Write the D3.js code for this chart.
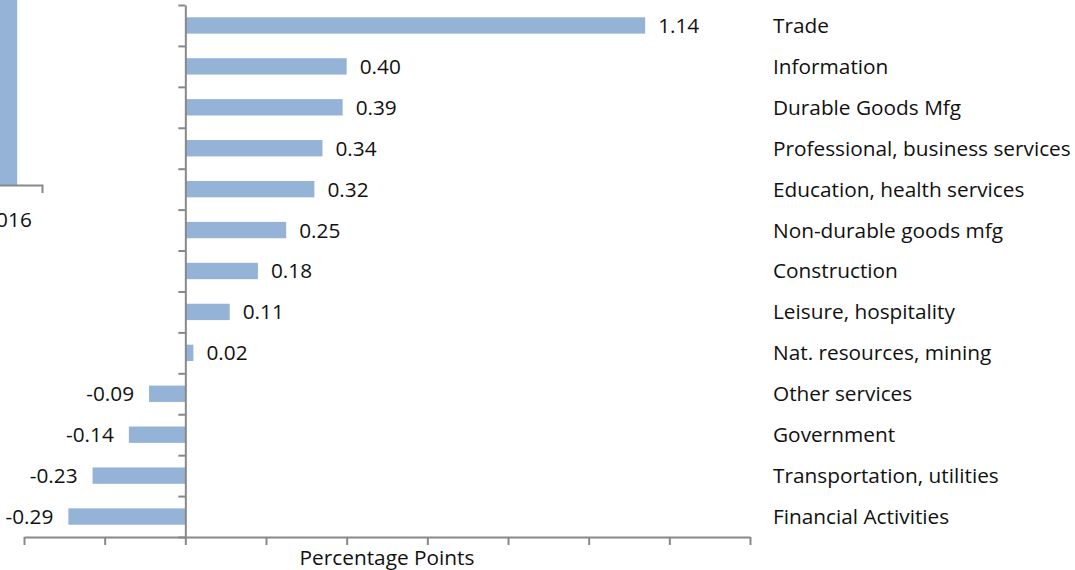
<!DOCTYPE html>
<html>
<head>
<meta charset="utf-8">
<script src="https://cdn.jsdelivr.net/npm/d3@7"></script>
<style>
  body { margin: 0; background: #fff; }
  svg text { font-family: "Open Sans", "Noto Sans", sans-serif; fill: #111; }
</style>
</head>
<body>
<svg id="chart"></svg>
<script>
// sector contributions, top to bottom
const categories = ["Trade", "Information", "Durable Goods Mfg", "Professional, business services",
  "Education, health services", "Non-durable goods mfg", "Construction", "Leisure, hospitality",
  "Nat. resources, mining", "Other services", "Government", "Transportation, utilities", "Financial Activities"];
const values = [1.14, 0.40, 0.39, 0.34, 0.32, 0.25, 0.18, 0.11, 0.02, -0.09, -0.14, -0.23, -0.29];
const xTicks = [-0.4, -0.2, 0, 0.2, 0.4, 0.6, 0.8, 1.0, 1.2, 1.4];
const axisTitle = "Percentage Points";

// piece of the neighbouring chart cut off at the left edge
const leftCategories = ["2016"];
const leftValues = [2.2];

const width = 1075, height = 570;
const barColor = "#95B3D7";
const axisColor = "#888";
const fontSize = "20.8px";

// plain hyphen for negatives, like the original
const fmt = d => (d < 0 ? "-" : "") + d3.format(".2f")(Math.abs(d));

const svg = d3.select("#chart").attr("width", width).attr("height", height);

const x = d3.scaleLinear().domain([-0.4, 1.4]).range([24, 750]);
const y = d3.scaleBand().domain(categories).range([5, 537]).paddingInner(0.6).paddingOuter(0.3);
const yIdx = d3.scaleLinear().domain([0, categories.length]).range([5, 537]);

// bars
svg.append("g").selectAll("rect")
  .data(values)
  .enter()
  .append("rect")
  .attr("x", d => x(Math.min(0, d)))
  .attr("y", (d, i) => y(categories[i]))
  .attr("width", d => Math.abs(x(d) - x(0)))
  .attr("height", y.bandwidth())
  .attr("fill", barColor);

// value labels
svg.append("g").selectAll("text")
  .data(values)
  .enter()
  .append("text")
  .attr("x", d => d >= 0 ? x(d) + 13 : x(d) - 15)
  .attr("y", (d, i) => y(categories[i]) + y.bandwidth() / 2)
  .attr("dy", "0.36em")
  .attr("text-anchor", d => d >= 0 ? "start" : "end")
  .style("font-size", fontSize)
  .text(fmt);

// category labels on the right
svg.append("g").selectAll("text")
  .data(categories)
  .enter()
  .append("text")
  .attr("x", 773)
  .attr("y", d => y(d) + y.bandwidth() / 2)
  .attr("dy", "0.36em")
  .style("font-size", fontSize)
  .text(d => d);

// bottom axis, no tick labels
const xAxis = d3.axisBottom(x).tickValues(xTicks).tickFormat("").tickSize(8).tickSizeOuter(0);
const gx = svg.append("g").attr("transform", `translate(0,${yIdx(categories.length)})`).call(xAxis);

// vertical axis at zero, ticks between categories
const yAxis = d3.axisLeft(yIdx).tickValues(d3.range(0, categories.length + 1)).tickFormat("").tickSize(7).tickSizeOuter(0);
const gy = svg.append("g").attr("transform", `translate(${x(0)},0)`).call(yAxis);

[gx, gy].forEach(g => {
  g.select(".domain").attr("stroke", axisColor).attr("stroke-width", 2);
  g.selectAll(".tick line").attr("stroke", axisColor).attr("stroke-width", 2);
});

svg.append("text")
  .attr("x", (x.range()[0] + x.range()[1]) / 2)
  .attr("y", 565)
  .attr("text-anchor", "middle")
  .style("font-size", fontSize)
  .text(axisTitle);

// neighbouring chart fragment
const xl = d3.scaleBand().domain(leftCategories).range([-26, 42]).paddingInner(0.73).paddingOuter(0.365);
const yl = d3.scaleLinear().domain([0, 2]).range([185, 5]);

svg.append("g").selectAll("rect")
  .data(leftValues)
  .enter()
  .append("rect")
  .attr("x", (d, i) => xl(leftCategories[i]))
  .attr("y", d => yl(d))
  .attr("width", xl.bandwidth())
  .attr("height", d => yl(0) - yl(d))
  .attr("fill", barColor);

const xlAxis = d3.axisBottom(xl).tickSize(0).tickSizeOuter(8);
const gl = svg.append("g").attr("transform", `translate(0,${yl(0)})`).call(xlAxis);
gl.select(".domain").attr("stroke", axisColor).attr("stroke-width", 2);
gl.selectAll(".tick text")
  .attr("y", 35)
  .attr("dy", "0.36em")
  .style("font-size", fontSize)
  .style("font-family", "\"Open Sans\", sans-serif")
  .attr("fill", "#111");
</script>
</body>
</html>
